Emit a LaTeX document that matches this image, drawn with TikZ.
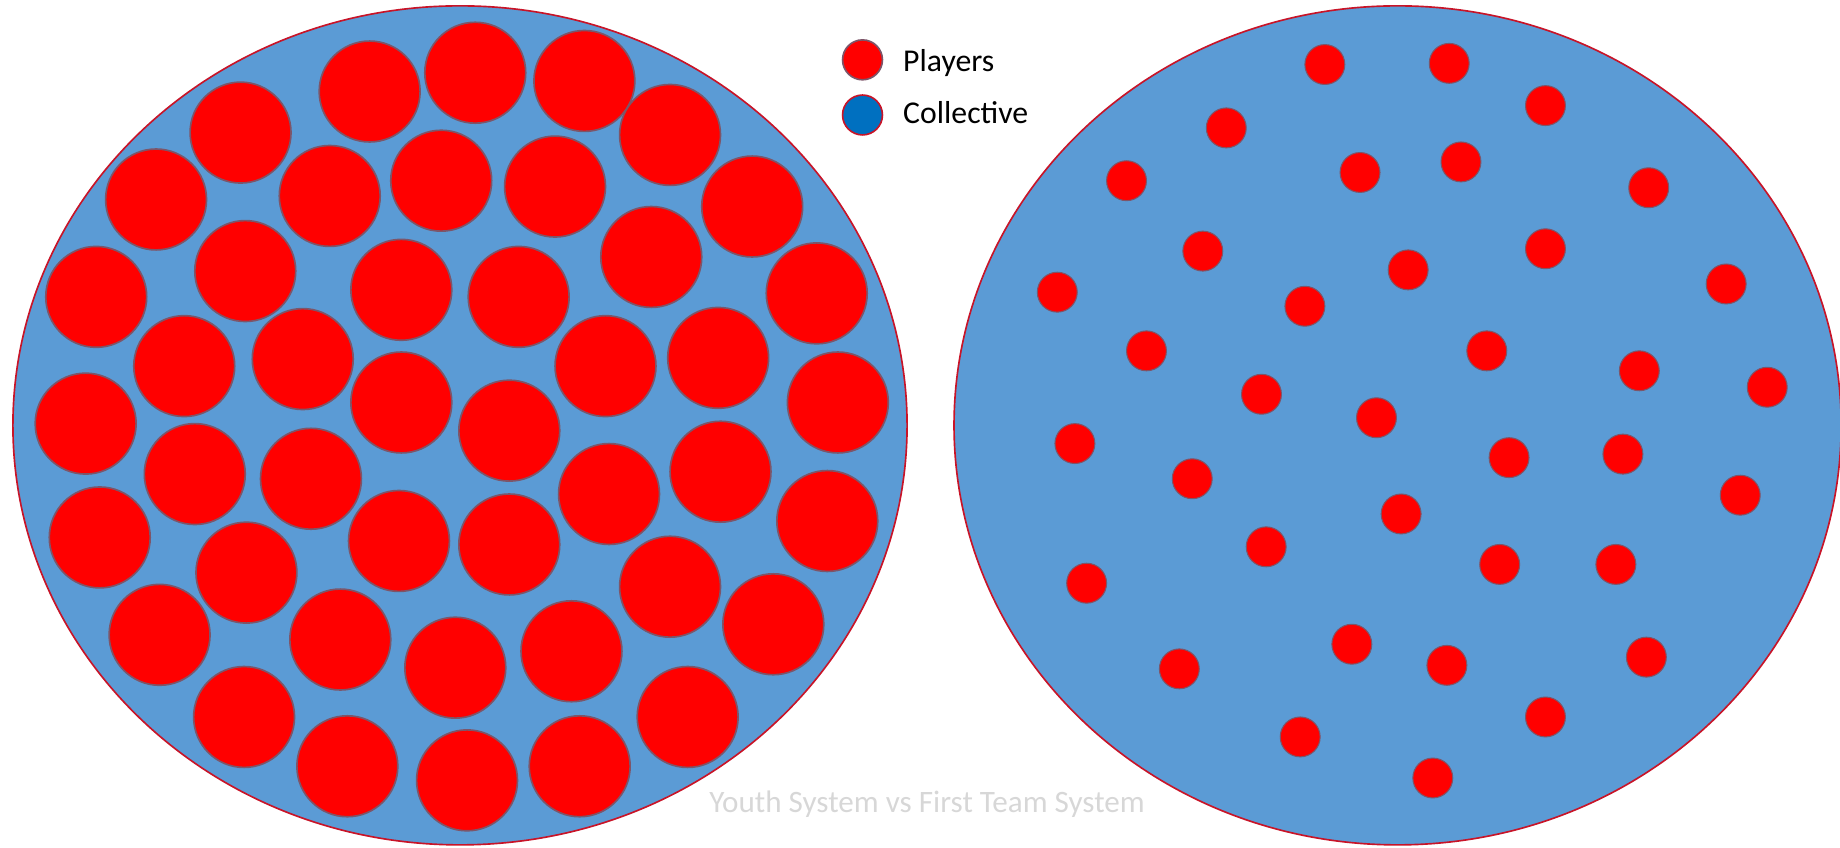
\documentclass[tikz,border=0pt]{standalone}
\usepackage{fontspec}
\setmainfont{Carlito}
\usepackage{tikz}
\usetikzlibrary{shapes.geometric}
\definecolor{collblue}{RGB}{91,155,213}
\definecolor{darkcoll}{RGB}{0,112,192}
\definecolor{playerred}{RGB}{255,0,0}
\definecolor{rimred}{RGB}{200,20,40}
\definecolor{dotrim}{RGB}{125,85,105}
\definecolor{captiongray}{RGB}{215,215,215}

\begin{document}
\begin{tikzpicture}[
  x=0.1mm, y=-0.1mm,
  team/.style={ellipse, draw=rimred, line width=0.4pt, fill=collblue,
               inner sep=0pt, minimum width=76.2mm, minimum height=71.5mm},
  youth/.style={circle, draw=dotrim, line width=0.4pt, fill=playerred,
                inner sep=0pt, minimum size=8.6mm},
  senior/.style={circle, draw=dotrim, line width=0.25pt, fill=playerred,
                 inner sep=0pt, minimum size=3.4mm},
  keytext/.style={anchor=base west, inner sep=0pt, font=\fontsize{7.7}{9}\selectfont}
]
\useasboundingbox (0,0) rectangle (1568,722);
\node[team] (youthsys) at (392,362.5) {};
\node[team, minimum width=75.6mm] (firstsys) at (1191,362.5) {};
% youth system: packed players
\foreach \px/\py [count=\i] in {315/78, 405/62, 498/69, 205/113, 571/115, 133/170, 281/167,
    376/154, 473/159, 641/176, 209/231, 342/247, 442/253, 555/219, 82/253, 696/250,
    157/312, 258/306, 516/312, 612/305, 73/361, 342/343, 434/367, 714/343, 166/404,
    265/408, 519/421, 614/402, 85/458, 210/488, 340/461, 434/464, 705/444, 571/500,
    136/541, 290/545, 388/569, 487/555, 659/532, 208/611, 586/611, 296/653, 398/665, 494/653}
  \node[youth] (y\i) at (\px,\py) {};
% first team system: spread players
\foreach \px/\py [count=\i] in {1129/55, 1235/54, 1317/90, 1045/109, 960/154, 1159/147,
    1245/138, 1405/160, 1025/214, 1200/230, 1317/212, 1471/242, 901/249, 1112/261,
    977/299, 1267/299, 1397/316, 1506/330, 1075/336, 1173/356, 916/378, 1286/390,
    1383/387, 1016/408, 1483/422, 1194/438, 1079/466, 1278/481, 1377/481, 926/497,
    1152/549, 1233/567, 1403/560, 1005/570, 1317/611, 1108/628, 1221/663}
  \node[senior] (f\i) at (\px,\py) {};
% legend
\node[youth, minimum size=3.4mm] (keyplayer) at (735,51) {};
\node[circle, draw=rimred, line width=0.4pt, fill=darkcoll, inner sep=0pt,
      minimum size=3.4mm] (keycoll) at (735,98) {};
\node[keytext] (players) at (769,61) {Players};
\node[keytext] (collective) at (769,105) {Collective};
\node[keytext, anchor=base, text=captiongray, font=\fontsize{7.55}{9}\selectfont]
  (caption) at (790,692) {Youth System vs First Team System};
\end{tikzpicture}
\end{document}
